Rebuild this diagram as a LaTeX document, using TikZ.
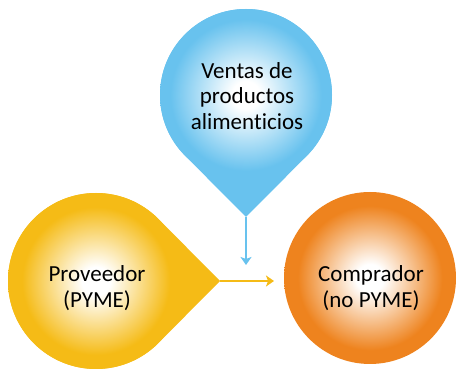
\documentclass[tikz,border=0pt]{standalone}
\usepackage{fontspec}
\setmainfont[Ligatures=NoCommon]{Carlito}
\usetikzlibrary{arrows.meta}

\definecolor{gotaazul}{RGB}{104,194,238}
\definecolor{gotaamarilla}{RGB}{245,187,22}
\definecolor{bolanaranja}{RGB}{238,131,30}

\pgfdeclareradialshading{sombraazul}{\pgfpoint{0bp}{0bp}}{color(0bp)=(white); color(4bp)=(white); color(22bp)=(gotaazul); color(50bp)=(gotaazul)}
\pgfdeclareradialshading{sombraamarilla}{\pgfpoint{0bp}{0bp}}{color(0bp)=(white); color(4bp)=(white); color(21bp)=(gotaamarilla); color(50bp)=(gotaamarilla)}
\pgfdeclareradialshading{sombranaranja}{\pgfpoint{0bp}{0bp}}{color(0bp)=(white); color(4bp)=(white); color(21bp)=(bolanaranja); color(50bp)=(bolanaranja)}

\begin{document}
\begin{tikzpicture}[x=1pt, y=1pt, every node/.style={align=center, font=\fontsize{23}{25.5}\selectfont}]
        \useasboundingbox (0,0) rectangle (458,369);

        % Ventas
        \coordinate (cv) at (246,274);
        \coordinate (tv) at (246,152);
        \coordinate (fv) at (246,104);
        \fill[gotaazul] (tv) -- ([shift={(-45:86)}]cv) arc[start angle=-45, end angle=225, radius=86] -- cycle;
        \shade[shading=sombraazul] (cv) circle (86);
        \node (ventas) at (247,273) {Ventas de\\productos\\alimenticios};

        % Proveedor
        \coordinate (cp) at (96,88);
        \coordinate (tp) at (220,88);
        \coordinate (fp) at (274,88);
        \fill[gotaamarilla] (tp) -- ([shift={(45:88)}]cp) arc[start angle=45, end angle=315, radius=88] -- cycle;
        \shade[shading=sombraamarilla] (cp) circle (88);
        \node (proveedor) at (97,81) {Proveedor\\(PYME)};

        % Comprador
        \coordinate (cc) at (370,91);
        \shade[shading=sombranaranja] (cc) circle (86);
        \node (comprador) at (371,81) {Comprador\\(no PYME)};

        % Flechas
        \draw[gotaazul, line width=1.6pt, -{Stealth[length=8pt, width=11pt, inset=2pt]}] (tv) -- (fv);
        \draw[gotaamarilla, line width=1.6pt, -{Stealth[length=8pt, width=11pt, inset=2pt]}] (tp) -- (fp);

\end{tikzpicture}
\end{document}
